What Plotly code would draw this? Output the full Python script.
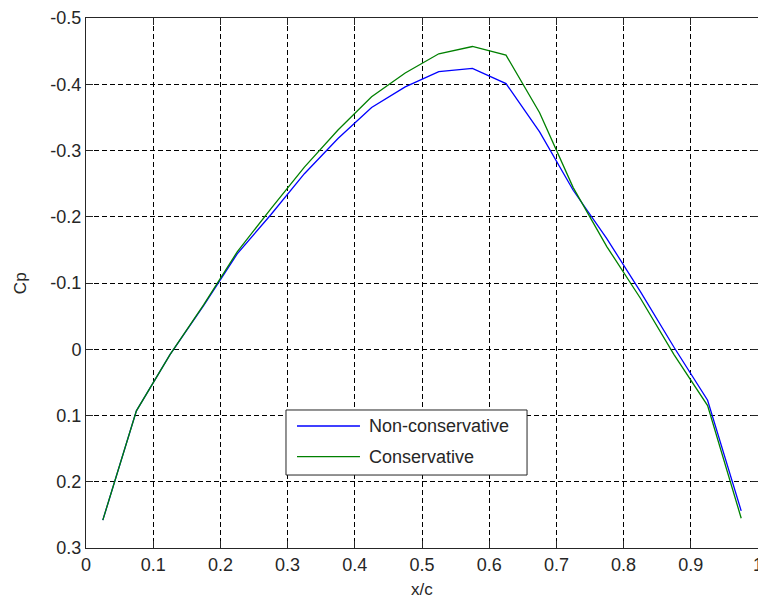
import plotly.graph_objects as go

# Data
x_c = [0.025, 0.075, 0.125, 0.175, 0.225, 0.275, 0.325, 0.375, 0.425, 0.475,
       0.525, 0.575, 0.625, 0.675, 0.725, 0.775, 0.825, 0.875, 0.925, 0.975]
cp_nonconservative = [0.258, 0.093, 0.008, -0.066, -0.144, -0.203, -0.265, -0.318, -0.365, -0.396,
                      -0.419, -0.424, -0.401, -0.328, -0.240, -0.167, -0.087, -0.003, 0.077, 0.244]
cp_conservative = [0.258, 0.093, 0.008, -0.067, -0.147, -0.212, -0.275, -0.331, -0.381, -0.417,
                   -0.446, -0.457, -0.444, -0.357, -0.244, -0.155, -0.077, 0.008, 0.085, 0.255]

x_ticks = [0, 0.1, 0.2, 0.3, 0.4, 0.5, 0.6, 0.7, 0.8, 0.9, 1]
x_tick_labels = ["0", "0.1", "0.2", "0.3", "0.4", "0.5", "0.6", "0.7", "0.8", "0.9", "1"]
y_ticks = [-0.5, -0.4, -0.3, -0.2, -0.1, 0, 0.1, 0.2, 0.3]
y_tick_labels = ["-0.5", "-0.4", "-0.3", "-0.2", "-0.1", "0", "0.1", "0.2", "0.3"]

series_names = ["Non-conservative", "Conservative"]
series_colors = ["#0000ff", "#008000"]

FONT = "Liberation Sans, Arial, sans-serif"

fig = go.Figure()
for name, ys, col in zip(series_names, [cp_nonconservative, cp_conservative], series_colors):
    fig.add_trace(go.Scatter(x=x_c, y=ys, mode="lines", name=name,
                             line=dict(color=col, width=1.3), showlegend=False))

axis_common = dict(
    showline=True, linecolor="#262626", linewidth=1, mirror="ticks",
    ticks="inside", ticklen=7, tickcolor="#262626", tickwidth=1,
    showgrid=True, gridcolor="#000000", gridwidth=1, griddash="5px,3px",
    zeroline=False, tickfont=dict(family=FONT, size=18, color="#262626"),
    ticklabeloverflow="allow", automargin=False,
)

fig.update_layout(
    width=758, height=601,
    margin=dict(l=86, r=0, t=18, b=53),
    paper_bgcolor="white", plot_bgcolor="white",
    xaxis=dict(range=[0, 1], tickvals=x_ticks, ticktext=x_tick_labels, **axis_common),
    yaxis=dict(range=[0.3, -0.5], tickvals=y_ticks, ticktext=y_tick_labels, **axis_common),
    showlegend=False,
)

# Axis titles
fig.add_annotation(text="x/c", xref="paper", yref="paper", x=0.5, y=-0.079,
                   showarrow=False, font=dict(family=FONT, size=17, color="#262626"),
                   xanchor="center", yanchor="middle")
fig.add_annotation(text="Cp", xref="paper", yref="paper", x=-0.098, y=0.5,
                   showarrow=False, textangle=-90, font=dict(family=FONT, size=17, color="#262626"),
                   xanchor="center", yanchor="middle")

# Legend box (MATLAB style)
fig.add_shape(type="rect", xref="paper", yref="paper", x0=0.2976, x1=0.6563, y0=0.1377, y1=0.2604,
              line=dict(color="#262626", width=1), fillcolor="white", layer="above")
leg_y = [0.2302, 0.1723]
for name, col, yy in zip(series_names, series_colors, leg_y):
    fig.add_shape(type="line", xref="paper", yref="paper", x0=0.314, x1=0.4077, y0=yy, y1=yy,
                  line=dict(color=col, width=1.3), layer="above")
    fig.add_annotation(text=name, xref="paper", yref="paper", x=0.418, y=yy,
                       showarrow=False, xanchor="left", yanchor="middle",
                       font=dict(family=FONT, size=18, color="#262626"))

fig.write_html("out.html")
